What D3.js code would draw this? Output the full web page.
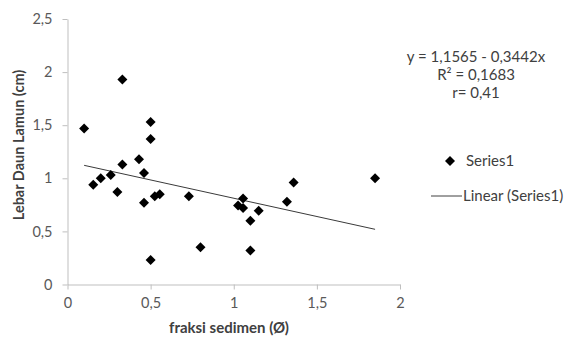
<!DOCTYPE html>
<html>
<head>
<meta charset="utf-8">
<script src="https://cdn.jsdelivr.net/npm/d3@7"></script>
<style>
  body { margin: 0; background: #fff; }
  text { font-family: Lato, "Open Sans", sans-serif; }
</style>
</head>
<body>
<div id="chart"></div>
<script>
// fraksi sedimen (x) vs lebar daun lamun (y)
var xVals = [0.10, 0.155, 0.20, 0.26, 0.30, 0.33, 0.33, 0.43, 0.46, 0.46, 0.50, 0.50, 0.50,
             0.525, 0.555, 0.73, 0.80, 1.026, 1.056, 1.056, 1.10, 1.10, 1.15, 1.32, 1.36, 1.85];
var yVals = [1.47, 0.94, 1.00, 1.03, 0.87, 1.93, 1.13, 1.18, 1.05, 0.77, 1.53, 1.37, 0.23,
             0.83, 0.85, 0.83, 0.35, 0.745, 0.81, 0.72, 0.60, 0.32, 0.695, 0.78, 0.96, 1.00];
var xTicks = [0, 0.5, 1, 1.5, 2];
var yTicks = [0, 0.5, 1, 1.5, 2, 2.5];
var intercept = 1.1565, slope = -0.3442;
var eqLines = ["y = 1,1565 - 0,3442x", "R² = 0,1683", "r= 0,41"];
var seriesName = "Series1", trendName = "Linear (Series1)";

var width = 571, height = 340;
var svg = d3.select('#chart').append('svg')
            .attr("width", width).attr("height", height);

var x = d3.scaleLinear().domain([0, 2]).range([67.5, 400]);
var y = d3.scaleLinear().domain([0, 2.5]).range([284.5, 19]);
var fmt = function(d){ return String(d).replace('.', ','); };

var axisColor = '#bfbfbf', textColor = '#595959';
var font = 'Lato, "Open Sans", sans-serif';

var xAxis = svg.append('g').attr('transform', 'translate(0,284.5)')
  .call(d3.axisBottom(x).tickValues(xTicks).tickFormat(fmt).tickSizeInner(5).tickSizeOuter(0).tickPadding(8));
var yAxis = svg.append('g').attr('transform', 'translate(67.5,0)')
  .call(d3.axisLeft(y).tickValues(yTicks).tickFormat(fmt).tickSizeInner(5).tickSizeOuter(0).tickPadding(10));

[xAxis, yAxis].forEach(function(a){
  a.selectAll('path, line').attr('stroke', axisColor);
  a.selectAll('text').attr('fill', textColor).style('font-size', '14.5px')
   .style('font-family', font);
});

// trend line
var xMin = d3.min(xVals), xMax = d3.max(xVals);
svg.append('line')
  .attr('x1', x(xMin)).attr('y1', y(intercept + slope * xMin))
  .attr('x2', x(xMax)).attr('y2', y(intercept + slope * xMax))
  .attr('stroke', '#3a3a3a').attr('stroke-width', 1);

// points
var diamond = d3.symbol().type(d3.symbolSquare).size(50);
svg.append('g').selectAll('path').data(xVals).enter().append('path')
  .attr('d', diamond)
  .attr('transform', function(d, i){ return 'translate(' + x(d) + ',' + y(yVals[i]) + ') rotate(45)'; })
  .attr('fill', '#000');

// axis titles
svg.append('text').attr('x', 229).attr('y', 333).attr('text-anchor', 'middle')
  .style('font-size', '15px').style('font-weight', 'bold').attr('fill', '#404040')
  .text('fraksi sedimen (Ø)');
svg.append('text').attr('transform', 'translate(24,145) rotate(-90)').attr('text-anchor', 'middle')
  .style('font-size', '14.5px').style('font-weight', 'bold').attr('fill', '#404040')
  .text('Lebar Daun Lamun (cm)');

// equation
svg.append('g').selectAll('text').data(eqLines).enter().append('text')
  .attr('x', 476).attr('y', function(d, i){ return 62 + i * 18; })
  .attr('text-anchor', 'middle').style('font-size', '15px').attr('fill', '#404040')
  .text(function(d){ return d; });

// legend
var lg = svg.append('g');
lg.append('path').attr('d', diamond).attr('transform', 'translate(450,161) rotate(45)').attr('fill', '#000');
lg.append('text').attr('x', 466).attr('y', 166).style('font-size', '15px').attr('fill', '#404040').text(seriesName);
lg.append('line').attr('x1', 431).attr('x2', 462).attr('y1', 196).attr('y2', 196).attr('stroke', '#404040');
lg.append('text').attr('x', 463).attr('y', 201).style('font-size', '15px').attr('fill', '#404040').text(trendName);
</script>
</body>
</html>
